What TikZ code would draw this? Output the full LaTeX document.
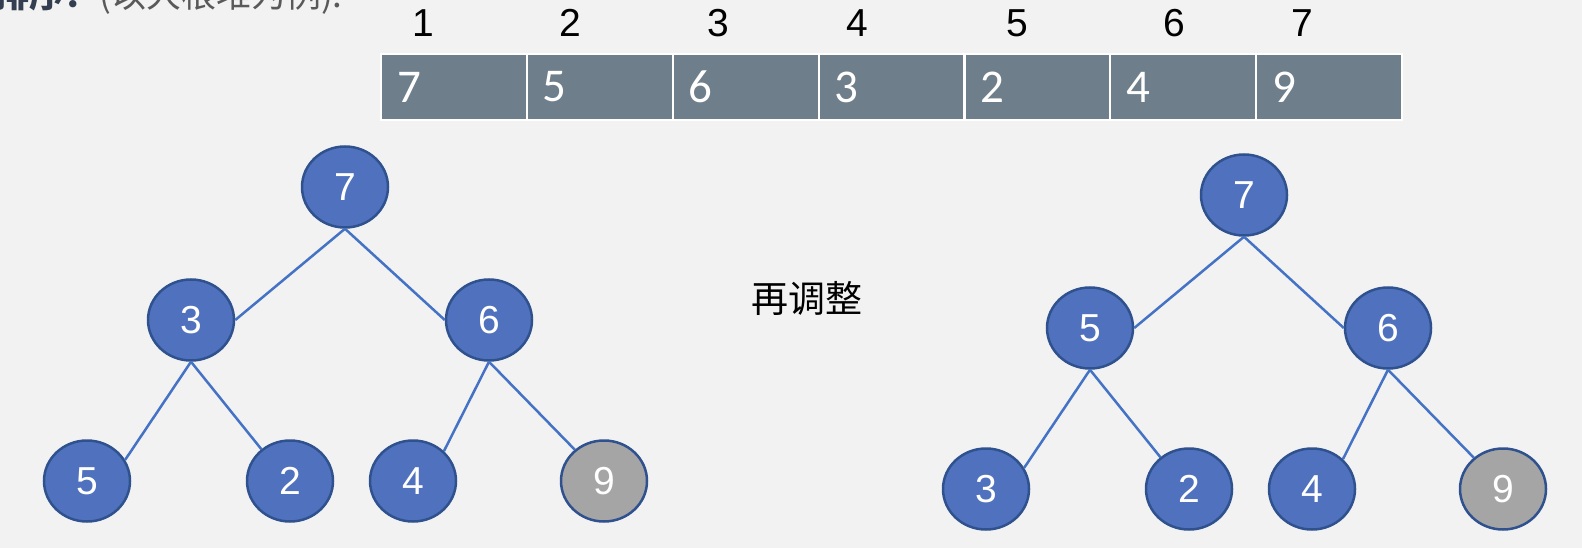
\documentclass[tikz,border=0pt]{standalone}
\usepackage{fontspec}
\setmainfont{Liberation Sans}
\newfontfamily\cjk{Noto Sans CJK SC}
\newfontfamily\cellfont{Carlito}
\usetikzlibrary{shapes.geometric}
\definecolor{bg}{RGB}{242,242,242}
\definecolor{nodefill}{RGB}{80,114,190}
\definecolor{nodeborder}{RGB}{47,82,143}
\definecolor{edgec}{RGB}{68,114,196}
\definecolor{cellc}{RGB}{111,126,139}
\definecolor{grayfill}{RGB}{165,165,165}
\definecolor{titledark}{RGB}{51,63,80}
\definecolor{titlegray}{RGB}{89,89,89}
\tikzset{
  heapnode/.style={ellipse, draw=nodeborder, line width=2.5pt, fill=nodefill,
    minimum width=86pt, minimum height=81pt, inner sep=0pt, text=white,
    font=\fontsize{39}{39}\selectfont},
  graynode/.style={heapnode, fill=grayfill},
  edge/.style={draw=edgec, line width=2.5pt},
  cell/.style={rectangle, draw=white, line width=2pt, fill=cellc, text=white,
    minimum height=66pt, text width=113.7pt, inner xsep=16pt, inner ysep=0pt,
    align=left, font=\cellfont\fontsize{47}{47}\selectfont},
  idx/.style={font=\fontsize{39}{39}\selectfont, text=black, inner sep=0pt},
}
\begin{document}
\begin{tikzpicture}[x=1pt,y=-1pt]
\fill[bg] (0,0) rectangle (1582,548);
\useasboundingbox (0,0) rectangle (1582,548);
\begin{scope}
\clip (0,0) rectangle (1582,548);
\node[anchor=base west, inner sep=0pt, font=\cjk\fontsize{35}{35}\selectfont] (title) at (-6,8)
  {{\color{titledark}\bfseries 排序：}{\color{titlegray}(以大根堆为例):}};
\end{scope}
% array
\foreach \i/\v in {1/7,2/5,3/6,4/3,5/2,6/4,7/9}{
  \node[cell] (c\i) at ({381+145.86*(\i-0.5)},87) {\v};
}
\node[idx] (i1) at (423,23) {1};
\node[idx] (i2) at (570,23) {2};
\node[idx] (i3) at (718,23) {3};
\node[idx] (i4) at (857,23) {4};
\node[idx] (i5) at (1017,23) {5};
\node[idx] (i6) at (1174,23) {6};
\node[idx] (i7) at (1302,23) {7};
% left tree
\node[heapnode] (L7) at (345,187) {7};
\node[heapnode] (L3) at (191,320) {3};
\node[heapnode] (L6) at (489,320) {6};
\node[heapnode] (L5) at (87,481) {5};
\node[heapnode] (L2) at (290,481) {2};
\node[heapnode] (L4) at (413,481) {4};
\node[graynode] (L9) at (604,481) {9};
\draw[edge] (L7.south) -- (L3.east);
\draw[edge] (L7.south) -- (L6.west);
\draw[edge] (L3.south) -- (L5.29);
\draw[edge] (L3.south) -- (L2.132);
\draw[edge] (L6.south) -- (L4.44);
\draw[edge] (L6.south) -- (L9.133);
% middle text
\node[font=\cjk\fontsize{37}{37}\selectfont, text=black] (mid) at (807,298) {再调整};
% right tree
\node[heapnode] (R7) at (1244,195) {7};
\node[heapnode] (R5) at (1090,328) {5};
\node[heapnode] (R6) at (1388,328) {6};
\node[heapnode] (R3) at (986,489) {3};
\node[heapnode] (R2) at (1189,489) {2};
\node[heapnode] (R4) at (1312,489) {4};
\node[graynode] (R9) at (1503,489) {9};
\draw[edge] (R7.south) -- (R5.east);
\draw[edge] (R7.south) -- (R6.west);
\draw[edge] (R5.south) -- (R3.29);
\draw[edge] (R5.south) -- (R2.132);
\draw[edge] (R6.south) -- (R4.44);
\draw[edge] (R6.south) -- (R9.133);
\end{tikzpicture}
\end{document}
